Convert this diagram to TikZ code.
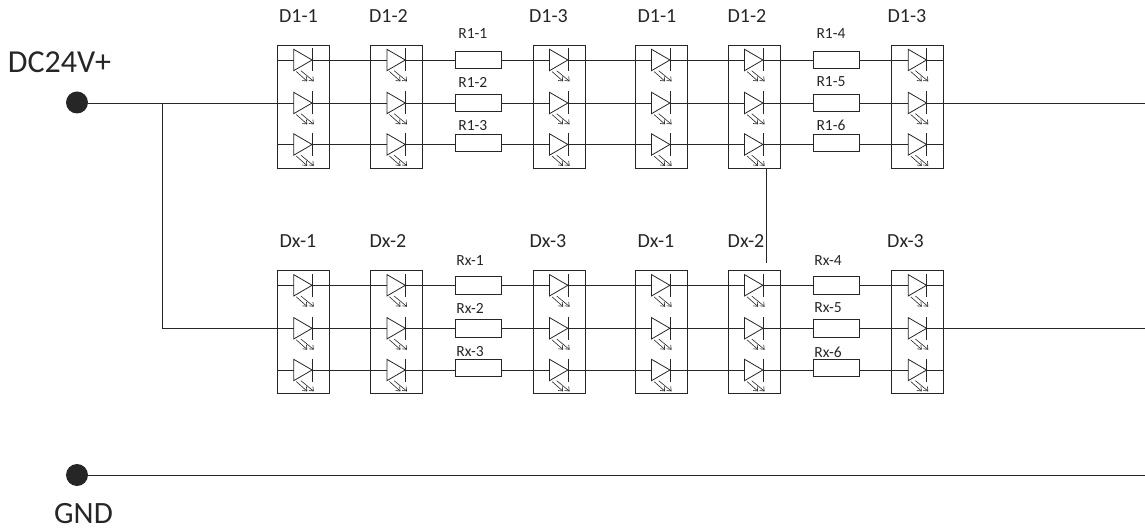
\documentclass[tikz,border=0pt]{standalone}
\usepackage{fontspec}
\setmainfont{Carlito}
\definecolor{ink}{HTML}{262626}
\tikzset{
  x=1pt,y=-1pt,
  wire/.style={draw=ink,line width=0.9pt},
  boxs/.style={draw=ink,line width=0.9pt,minimum width=52pt,minimum height=123pt,inner sep=0pt},
  res/.style={draw=ink,line width=0.9pt,fill=white,minimum width=45.5pt,minimum height=17.5pt,inner sep=0pt},
  ledn/.style={minimum width=18.4pt,minimum height=0pt,inner sep=0pt,outer sep=0pt},
  dlabel/.style={font=\fontsize{20}{20}\selectfont,inner sep=0pt,text=ink},
  rlabel/.style={font=\fontsize{15.5}{15.5}\selectfont,inner sep=0pt,text=ink},
  blabel/.style={font=\fontsize{32}{32}\selectfont,inner sep=0pt,text=ink},
  glabel/.style={font=\fontsize{31}{31}\selectfont,inner sep=0pt,text=ink},
  dot/.style={circle,fill=ink,minimum size=22pt,inner sep=0pt},
  thinarrow/.style={line width=0.6pt,draw=ink}
}
\newcommand{\ledat}[3]{%
  \node[ledn] (#1) at (#2,#3) {};
  \draw[wire,line width=0.8pt] (#2-9.2,#3-10.7) -- (#2+9.2,#3) -- (#2-9.2,#3+10.7) -- cycle;
  \draw[wire,line width=0.8pt] (#2+9.2,#3-11.5) -- (#2+9.2,#3+11.5);
  \draw[thinarrow] (#2-6.7,#3+11.5) -- (#2+4,#3+21) (#2-2,#3+10.7) -- (#2+10.5,#3+21);
  \draw[thinarrow] (#2-0.5,#3+20.5) -- (#2+4,#3+21) -- (#2+3.5,#3+16.5) (#2+6,#3+20.5) -- (#2+10.5,#3+21) -- (#2+10,#3+16.5);
}
\begin{document}
\begin{tikzpicture}
\useasboundingbox (0,0) rectangle (1145,529);
% DC input and ground
\node[dot] (dc) at (77,102.5) {};
\node[dot] (gnd) at (77,475) {};
\coordinate (gndend) at (1145,475);
\coordinate (j) at (162,103);
\coordinate (k) at (162,328.3);
\draw[wire] (dc.east |- j) -- (j) (gnd) -- (gndend);
\draw[wire] (j) -- (k);
\node[blabel] (ldc) at (59.5,62) {DC24V+};
\node[glabel] (lgnd) at (83.5,513.5) {GND};
% Two rows of groups
\foreach \g/\yt/\ya/\yb/\yc/\ryc in {
  1/106.7/60/103/144.5/142.8,
  2/332.3/285.3/328.3/370/368}{
  \foreach \n/\x in {1/303.2,2/396.4,3/559,4/661,5/754,6/917.7}{
    \node[boxs] (b\g\n) at (\x,\yt) {};
    \foreach \r/\yy in {a/\ya,b/\yb,c/\yc}{
      \ledat{d\g\n\r}{\x-0.3}{\yy}
    }
  }
  \foreach \r/\yy/\ry in {a/\ya/\ya,b/\yb/\yb,c/\yc/\ryc}{
    \coordinate (s\g\r) at (b\g1.west |- 0,\yy);
    \coordinate (e\g\r) at (b\g6.east |- 0,\yy);
    \node[res] (r\g\r1) at (478.2,\ry) {};
    \node[res] (r\g\r2) at (836.2,\ry) {};
    \draw[wire] (d\g1\r.east) -- (d\g2\r.west) (d\g2\r.east) -- (r\g\r1.west |- 0,\yy)
      (r\g\r1.east |- 0,\yy) -- (d\g3\r.west) (d\g3\r.east) -- (d\g4\r.west)
      (d\g4\r.east) -- (d\g5\r.west) (d\g5\r.east) -- (r\g\r2.west |- 0,\yy)
      (r\g\r2.east |- 0,\yy) -- (d\g6\r.west);
  }
  \draw[wire] (s\g a) -- (d\g1a.west) (s\g c) -- (d\g1c.west)
    (d\g6a.east) -- (e\g a) (d\g6c.east) -- (e\g c);
  \draw[wire] (d\g6b.east) -- (1145,\yb);
  \ifnum\g=1 \draw[wire] (j) -- (d\g1b.west); \else \draw[wire] (k) -- (d\g1b.west); \fi
}
% Jumper
\coordinate (jumpend) at (766,262.7);
\draw[wire] (b15.south -| jumpend) -- (jumpend);
% Labels
\foreach \t/\x/\y in {D1-1/298.5/16.5,D1-2/388.5/16.5,D1-3/548.5/16.5,D1-1/657/16.5,D1-2/747/16.5,D1-3/907/16.5,
  Dx-1/298/241,Dx-2/388/241,Dx-3/548/241,Dx-1/656/241,Dx-2/746/241,Dx-3/905.5/241}{
  \node[dlabel] at (\x,\y) {\t};
}
\foreach \t/\x/\y in {R1-1/472.8/34,R1-2/472.8/82,R1-3/472.8/125.5,R1-4/831/34,R1-5/831/82,R1-6/831/125.5,
  Rx-1/470/261,Rx-2/470/308,Rx-3/470/352,Rx-4/828/261,Rx-5/828/308,Rx-6/828/352}{
  \node[rlabel] at (\x,\y) {\t};
}
\end{tikzpicture}
\end{document}
